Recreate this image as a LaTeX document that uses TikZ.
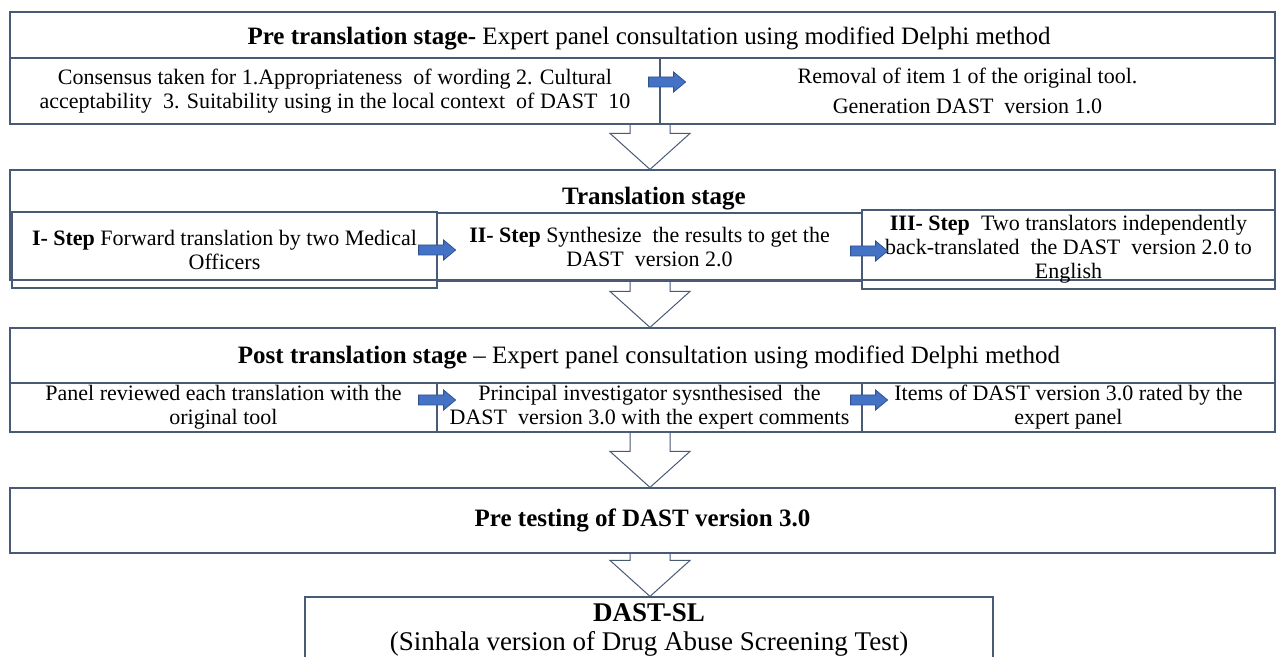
\documentclass[tikz,border=0pt]{standalone}
\usepackage{fontspec}
\setmainfont{Liberation Serif}
\usetikzlibrary{positioning,calc}
\definecolor{framecolor}{RGB}{72,90,118}
\definecolor{arrowblue}{RGB}{68,114,196}
\definecolor{arrowrim}{RGB}{47,82,143}
\tikzset{
  stage box/.style={
    draw=framecolor,
    line width=0.6pt,
    minimum width=632.5pt,
    inner sep=0pt
  },
  cell box/.style={
    draw=framecolor,
    line width=0.6pt,
    inner sep=1pt,
    align=center,
    font=\fontsize{11}{12}\selectfont
  },
  stage title/.style={
    inner sep=0pt,
    align=center,
    font=\fontsize{12.5}{14}\selectfont
  },
  flow arrow/.style={
    draw=framecolor,
    line width=0.5pt,
    line join=miter
  },
  blue arrow/.style={
    fill=arrowblue,
    draw=arrowrim,
    line width=0.4pt
  }
}
% hollow arrow between two stages
\newcommand{\flowdown}[2]{%
  \draw[flow arrow] ($(#1.south -| 650,0)+(-20,0)$) -- ($(#2.north -| 650,0)+(-20,-36)$)
    -- ++(-20,0) -- (#2.north -| 650,0) -- ++(40,-36) -- ++(-20,0)
    -- ($(#1.south -| 650,0)+(20,0)$);}
% small blue arrow across a cell border
\newcommand{\bluearrow}[1]{%
  \draw[blue arrow] ($#1+(0,-5)$) -- ++(25,0) -- ++(0,-5) -- ++(12,10)
    -- ++(-12,10) -- ++(0,-5) -- ++(-25,0) -- cycle;}

\begin{document}
\begin{tikzpicture}[x=0.5pt, y=-0.5pt]

  \fill[white] (0,0) rectangle (1276,657);
  \useasboundingbox (0,0) rectangle (1276,657);

  % Pre translation stage
  \node[stage box, minimum height=56pt] (st1) at (642.5,68) {};
  \node[stage title] (t1) at (649,38) {\textbf{Pre translation stage-} Expert panel consultation using modified Delphi method};
  \node[cell box, minimum width=325pt, minimum height=33pt] (c1a) at (335,91)
    {Consensus taken for 1.Appropriateness\ \ of wording 2. Cultural\\acceptability\ \ 3. Suitability using in the local context\ \ of DAST\ \ 10};
  \node[cell box, minimum width=307.5pt, minimum height=33pt] (c1b) at (967.5,91)
    {Removal of item 1 of the original tool.\\[3pt]Generation DAST\ \ version 1.0};
  \bluearrow{(c1a.east)+(-12,-9)}

  % Translation stage
  \node[stage box, minimum height=55pt] (st2) at (642.5,225) {};
  \node[stage title] (t2) at (654,199) {\textbf{Translation stage}};
  \node[cell box, minimum width=212.5pt, minimum height=38pt] (c2a) at (224.5,250)
    {\textbf{I- Step} Forward translation by two Medical\\Officers};
  \node[cell box, minimum width=212.5pt, minimum height=34pt] (c2b) at (649.5,247)
    {\textbf{II- Step} Synthesize\ \ the results to get the\\DAST\ \ version 2.0};
  \node[cell box, minimum width=206.5pt, minimum height=39.5pt] (c2c) at (1068.5,249.5)
    {\textbf{III- Step}\ \ Two translators independently\\back-translated\ \ the DAST\ \ version 2.0 to\\English};
  \bluearrow{(c2a.east)+(-19,0)}
  \bluearrow{(c2b.east)+(-12,4)}

  % Post translation stage
  \node[stage box, minimum height=52pt] (st3) at (642.5,380) {};
  \node[stage title] (t3) at (649,357) {\textbf{Post translation stage} -- Expert panel consultation using modified Delphi method};
  \node[cell box, minimum width=213.5pt, minimum height=24.5pt] (c3a) at (223.5,407.5)
    {Panel reviewed each translation with the\\original tool};
  \node[cell box, minimum width=212.5pt, minimum height=24.5pt] (c3b) at (649.5,407.5)
    {Principal investigator sysnthesised\ \ the\\DAST\ \ version 3.0 with the expert comments};
  \node[cell box, minimum width=206.5pt, minimum height=24.5pt] (c3c) at (1068.5,407.5)
    {Items of DAST version 3.0 rated by the\\expert panel};
  \bluearrow{(c3a.east)+(-19,-7.5)}
  \bluearrow{(c3b.east)+(-12,-7.5)}

  % Pre testing
  \node[stage box, minimum height=32.5pt, font=\fontsize{12.5}{14}\selectfont] (st4) at (642.5,520.5)
    {\textbf{Pre testing of DAST version 3.0}};

  % Final tool
  \node[draw=framecolor, line width=0.6pt, minimum width=344pt, minimum height=51.5pt] (st5) at (649,648.5) {};
  \node[align=center, inner sep=0pt, font=\fontsize{13.5}{14.5}\selectfont] (t5) at (649,630)
    {\textbf{DAST-SL}\\(Sinhala version of Drug Abuse Screening Test)};

  % Hollow arrows between stages
  \flowdown{st1}{st2}
  \flowdown{st2}{st3}
  \flowdown{st3}{st4}
  \flowdown{st4}{st5}

\end{tikzpicture}
\end{document}
